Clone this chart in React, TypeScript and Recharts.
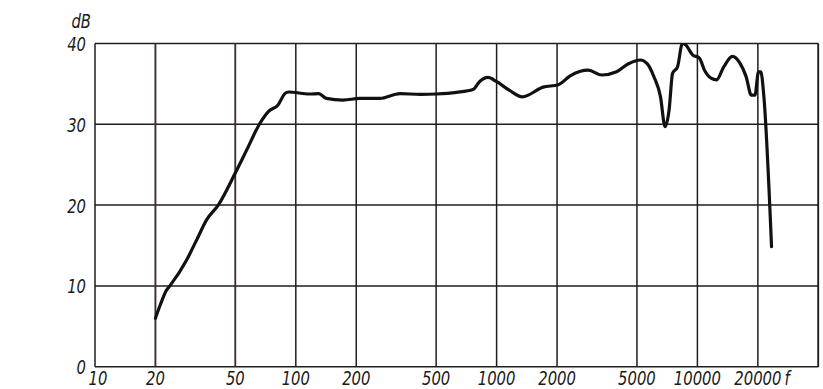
import React from 'react';
import { LineChart, Line, XAxis, YAxis, CartesianGrid, ReferenceLine } from 'recharts';

// Frequency response (Hz, dB)
const freqHz = [
  20, 21.1, 22.75, 23.6, 28.6, 32.1, 36.0, 41.1, 49.8, 56.9, 66.2, 73.2, 81.6, 88.2, 92,
  117, 130, 142, 172, 208, 262, 330, 417, 501, 631, 763, 824, 906, 997, 1160, 1345,
  1705, 2030, 2325, 2860, 3340, 3960, 4540, 5200, 5620, 6070, 6550, 6900, 7230, 7520,
  7960, 8420, 8760, 9460, 10230, 10850, 11700, 12460, 13520, 14940, 16160, 17480,
  18560, 19350, 20150, 20700, 21370, 23400,
];
const levelDb = [
  6.0, 7.6, 9.5, 10.0, 13.2, 15.7, 18.2, 20.0, 23.9, 26.8, 30.1, 31.6, 32.4, 33.8, 34.0,
  33.75, 33.8, 33.2, 33.0, 33.2, 33.2, 33.8, 33.7, 33.75, 33.95, 34.3, 35.3, 35.8, 35.3, 34.2, 33.4,
  34.6, 34.9, 36.0, 36.7, 36.1, 36.5, 37.5, 37.96, 37.5, 35.9, 33.4, 29.7, 31.8, 36.3,
  37.1, 40.0, 39.8, 38.6, 38.2, 36.7, 35.7, 35.5, 37.1, 38.4, 37.7, 35.9,
  33.6, 33.6, 36.5, 36.5, 33.8, 14.85,
];
const xTicks = [10, 20, 50, 100, 200, 500, 1000, 2000, 5000, 10000, 20000];
const yTicks = [0, 10, 20, 30, 40];
const redLines = [20, 50];
const xUnit = 'f';
const yUnit = 'dB';

const data = freqHz.map((f, i) => ({ f, db: levelDb[i] }));

const FONT = '"DejaVu Sans", sans-serif';
const INK = '#1a1a1a';
const PLOT_LEFT = 95;
const PLOT_BOTTOM = 366.7;
const PLOT_TOP = 43.5;
const SQUEEZE = 0.78;

const NarrowText = ({ x, y, anchor, children }: any) => (
  <text
    transform={`translate(${x},${y}) scale(${SQUEEZE},1)`}
    x={0}
    y={0}
    textAnchor={anchor}
    fontFamily={FONT}
    fontStyle="italic"
    fontSize={19}
    fill={INK}
  >
    {children}
  </text>
);

const XTick = (props: any) => {
  const { x, payload, index } = props;
  const shift = index === 0 ? 3 : 0;
  return (
    <NarrowText x={x + shift} y={PLOT_BOTTOM + 18.5} anchor="middle">
      {payload.value}
    </NarrowText>
  );
};

const YTick = (props: any) => {
  const { y, payload } = props;
  return (
    <NarrowText x={PLOT_LEFT - 9} y={y + 7.5} anchor="end">
      {payload.value}
    </NarrowText>
  );
};

const XUnitLabel = () => (
  <NarrowText x={787} y={PLOT_BOTTOM + 18.5} anchor="middle">
    {xUnit}
  </NarrowText>
);

const YUnitLabel = () => (
  <NarrowText x={PLOT_LEFT - 4} y={PLOT_TOP - 16} anchor="end">
    {yUnit}
  </NarrowText>
);

export default function App() {
  return (
    <div style={{ position: 'absolute', left: 0, top: 0, width: 823, height: 389, background: '#fff' }}>
      <LineChart
        width={823}
        height={389}
        data={data}
        margin={{ top: PLOT_TOP, right: 4.7, bottom: 0, left: 0 }}
      >
        <CartesianGrid stroke="#1e1e1e" strokeWidth={1.5} fill="none" />
        <XAxis
          dataKey="f"
          type="number"
          scale="log"
          domain={[10, 40000]}
          ticks={xTicks}
          allowDataOverflow
          height={389 - PLOT_BOTTOM}
          axisLine={false}
          tickLine={false}
          tickSize={0}
          tickMargin={0}
          interval={0}
          tick={XTick}
          label={XUnitLabel}
        />
        <YAxis
          type="number"
          domain={[0, 40]}
          ticks={yTicks}
          allowDataOverflow
          width={PLOT_LEFT}
          axisLine={false}
          tickLine={false}
          tickSize={0}
          tickMargin={0}
          interval={0}
          tick={YTick}
          label={YUnitLabel}
        />
        {redLines.map((v) => (
          <ReferenceLine key={v} x={v} stroke="#4e2632" strokeWidth={1.5} />
        ))}
        <ReferenceLine x={40000} stroke="#1e1e1e" strokeWidth={1.6} />
        <Line
          dataKey="db"
          type="monotone"
          stroke="#111"
          strokeWidth={3.2}
          strokeLinejoin="round"
          strokeLinecap="round"
          dot={false}
          isAnimationActive={false}
        />
      </LineChart>
    </div>
  );
}
